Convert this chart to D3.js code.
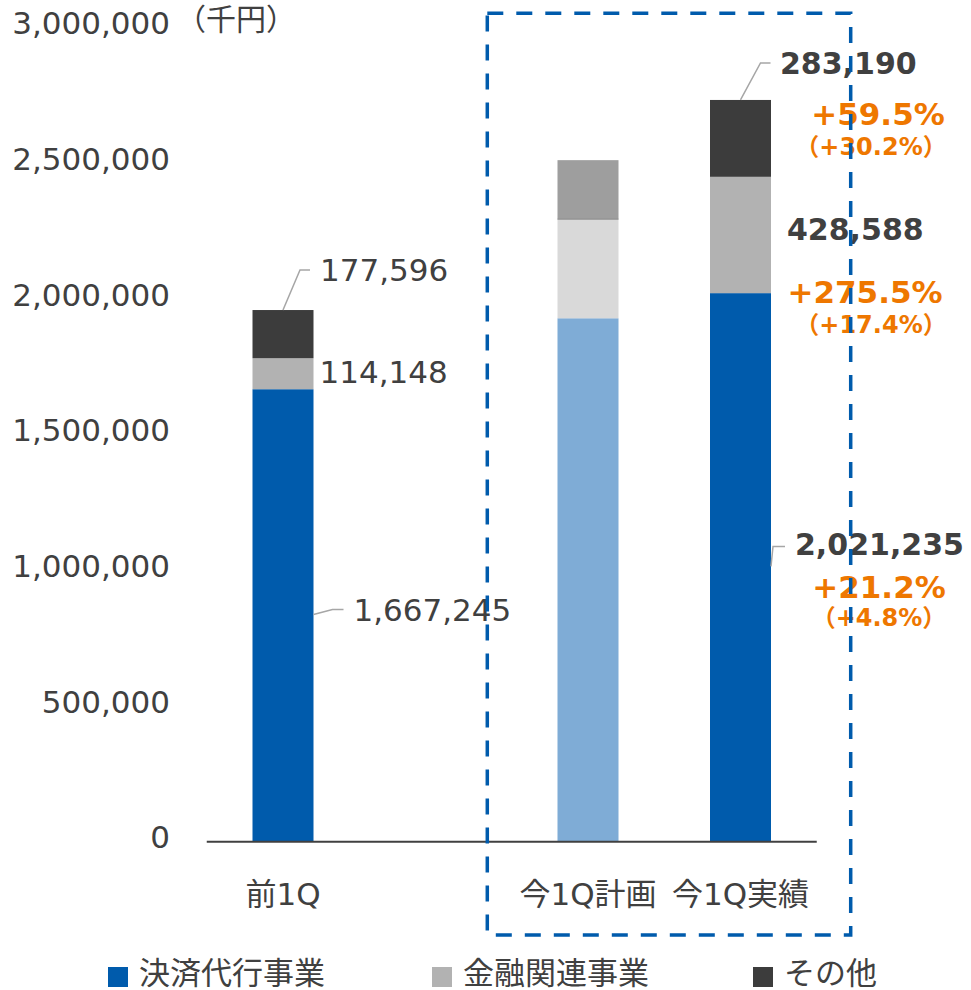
<!DOCTYPE html>
<html>
<head>
<meta charset="utf-8">
<script src="https://cdn.jsdelivr.net/npm/d3@7"></script>
<style>
  html, body { margin: 0; padding: 0; background: #fff; }
  svg { display: block; }
</style>
</head>
<body>
<svg id="chart" width="971" height="990"></svg>
<script>
// ---- data ----
const categories = ["前1Q", "", "今1Q計画", "今1Q実績"];
const seriesNames = ["決済代行事業", "金融関連事業", "その他"];
const payment = [1667245, null, 1928660, 2021235];
const finance = [114148, null, 365066, 428588];
const other   = [177596, null, 217504, 283190];
const yTicks = [0, 500000, 1000000, 1500000, 2000000, 2500000, 3000000];
const unitLabel = "（千円）";
const growthYoY = ["+21.2%", "+275.5%", "+59.5%"];        // payment, finance, other
const growthVsPlan = ["（+4.8%）", "（+17.4%）", "（+30.2%）"];

// ---- styles ----
const FONT = "'DejaVu Sans', 'Noto Sans CJK JP', sans-serif";
const TXT = "#404040";
const ORANGE = "#EE7700";
const LEADER = "#A6A6A6";
const actualColors = ["#005BAC", "#B2B2B2", "#3C3C3C"];
const planColors = ["#7FACD6", "#D9D9D9", "#9E9E9E"];

const svg = d3.select("#chart");

const y = d3.scaleLinear().domain([0, 3000000]).range([841.7, 27.5]);
const x = d3.scaleBand().domain(categories).range([206.75, 816.75])
  .paddingInner(0.6).paddingOuter(0.3);

// stacked data
const rows = categories.map((c, i) => ({cat: c, p: payment[i], f: finance[i], o: other[i]}))
  .filter(r => r.p != null);
const stack = d3.stack().keys(["p", "f", "o"]);
const stacked = stack(rows);

const g = svg.append("g");
stacked.forEach((layer, li) => {
  g.selectAll(null).data(layer).enter().append("rect")
    .attr("x", d => x(d.data.cat))
    .attr("width", x.bandwidth())
    .attr("y", d => y(d[1]))
    .attr("height", d => y(d[0]) - y(d[1]))
    .attr("fill", d => d.data.cat === "今1Q計画" ? planColors[li] : actualColors[li]);
});
// thin separator on plan bar between gray segments
const planRow = stacked[1].find(d => d.data.cat === "今1Q計画");
g.append("line")
  .attr("x1", x("今1Q計画")).attr("x2", x("今1Q計画") + x.bandwidth())
  .attr("y1", y(planRow[1])).attr("y2", y(planRow[1]))
  .attr("stroke", "#8C8C8C").attr("stroke-width", 1);

// axis baseline
svg.append("line")
  .attr("x1", x.range()[0]).attr("x2", x.range()[1])
  .attr("y1", y(0)).attr("y2", y(0))
  .attr("stroke", "#404040").attr("stroke-width", 2);

// y axis labels via d3 axis
const yAxis = d3.axisLeft(y).tickValues(yTicks).tickSize(0).tickPadding(0).tickFormat(d3.format(","));
const ya = svg.append("g").attr("transform", "translate(170,0)").call(yAxis);
ya.select(".domain").remove();
ya.selectAll("text")
  .attr("font-family", FONT).attr("font-size", 31).attr("fill", TXT)
  .attr("dy", "0.2em").attr("x", 0);

svg.append("text").attr("x", 176).attr("y", 30)
  .attr("font-family", FONT).attr("font-size", 30).attr("fill", TXT)
  .text(unitLabel);

// x labels
svg.selectAll(null).data(categories.filter(c => c !== "")).enter().append("text")
  .attr("x", d => x(d) + x.bandwidth() / 2)
  .attr("y", 905)
  .attr("text-anchor", "middle")
  .attr("font-family", FONT).attr("font-size", 31).attr("fill", TXT)
  .text(d => d);

// ---- value labels ----
const fmt = d3.format(",");
function leader(pts) {
  svg.append("path").attr("d", d3.line()(pts))
    .attr("fill", "none").attr("stroke", LEADER).attr("stroke-width", 1.5);
}
function label(tx, ty, txt, opts = {}) {
  svg.append("text").attr("x", tx).attr("y", ty)
    .attr("text-anchor", opts.anchor || "start")
    .attr("font-family", FONT)
    .attr("font-size", opts.size || 31)
    .attr("font-weight", opts.bold ? "bold" : "normal")
    .attr("fill", opts.color || TXT)
    .text(txt);
}

// 前1Q
{
  const c = "前1Q", i = categories.indexOf(c);
  const cx = x(c) + x.bandwidth() / 2, right = x(c) + x.bandwidth();
  const top = y(payment[i] + finance[i] + other[i]);
  leader([[cx, top], [cx + 17, top - 40], [cx + 27, top - 40]]);
  label(cx + 37, top - 29, fmt(other[i]));
  const fMid = (y(payment[i]) + y(payment[i] + finance[i])) / 2;
  label(right + 6, fMid + 9, fmt(finance[i]));
  const pMid = (y(0) + y(payment[i])) / 2;
  leader([[right, pMid - 1], [right + 19, pMid - 6], [right + 30, pMid - 6]]);
  label(right + 40, pMid + 6, fmt(payment[i]));
}
// 今1Q実績
{
  const c = "今1Q実績", i = categories.indexOf(c);
  const cx = x(c) + x.bandwidth() / 2, right = x(c) + x.bandwidth();
  const top = y(payment[i] + finance[i] + other[i]);
  leader([[cx, top], [cx + 20, top - 37], [cx + 30, top - 37]]);
  label(right + 9, top - 26, fmt(other[i]), {bold: true, size: 30});
  label(878, top + 25, growthYoY[2], {bold: true, color: ORANGE, anchor: "middle"});
  label(871, top + 55, growthVsPlan[2], {bold: true, color: ORANGE, anchor: "middle", size: 24});

  const fMid = (y(payment[i]) + y(payment[i] + finance[i])) / 2;
  label(right + 16, fMid + 5, fmt(finance[i]), {bold: true, size: 30});
  label(865, fMid + 68, growthYoY[1], {bold: true, color: ORANGE, anchor: "middle"});
  label(871, fMid + 98, growthVsPlan[1], {bold: true, color: ORANGE, anchor: "middle", size: 24});

  const pMid = (y(0) + y(payment[i])) / 2;
  leader([[right, pMid - 1], [right + 2, pMid - 21], [right + 14, pMid - 21]]);
  label(right + 24, pMid - 12, fmt(payment[i]), {bold: true, size: 30});
  label(879, pMid + 31, growthYoY[0], {bold: true, color: ORANGE, anchor: "middle"});
  label(879, pMid + 59, growthVsPlan[0], {bold: true, color: ORANGE, anchor: "middle", size: 24});
}

// dashed highlight box
svg.append("rect")
  .attr("x", 487.3).attr("y", 13.3).attr("width", 363.4).attr("height", 921.7)
  .attr("fill", "none").attr("stroke", "#005BAC").attr("stroke-width", 3.5)
  .attr("stroke-dasharray", "16,13");

// legend
const legendX = [108, 432, 753];
const lg = svg.selectAll(".lg").data(seriesNames).enter().append("g")
  .attr("transform", (d, i) => `translate(${legendX[i]},0)`);
lg.append("rect").attr("x", 0).attr("y", 967).attr("width", 20).attr("height", 20)
  .attr("fill", (d, i) => actualColors[i]);
lg.append("text").attr("x", 31).attr("y", 984)
  .attr("font-family", FONT).attr("font-size", 31).attr("fill", TXT)
  .text(d => d);
</script>
</body>
</html>
